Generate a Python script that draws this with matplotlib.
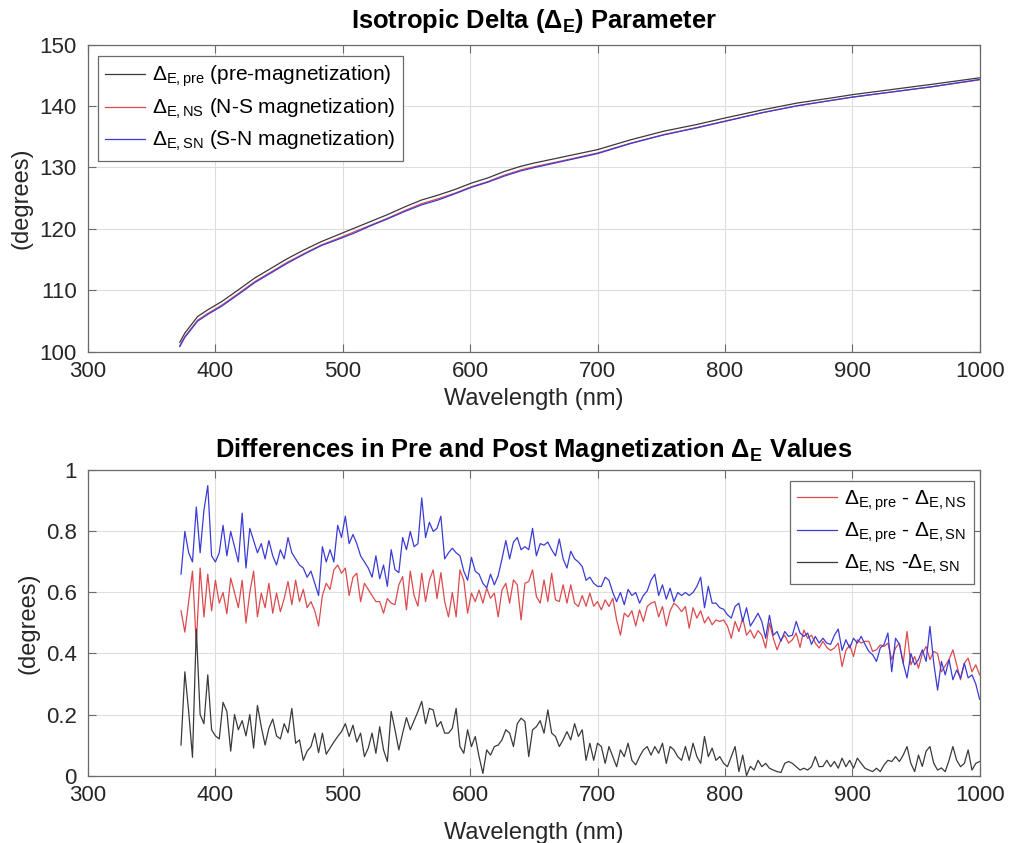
import numpy as np
import matplotlib
matplotlib.use("Agg")
import matplotlib.pyplot as plt

plt.rcParams['font.family'] = ['Liberation Sans', 'DejaVu Sans']
plt.rcParams['mathtext.fontset'] = 'custom'
plt.rcParams['mathtext.rm'] = 'Liberation Sans'
plt.rcParams['mathtext.it'] = 'Liberation Sans:italic'
plt.rcParams['mathtext.bf'] = 'Liberation Sans:bold'

# --- top panel: isotropic delta (degrees) ---
wl_top = [372, 376, 386, 394, 405, 418, 431, 444, 457, 470, 483, 496, 509, 522, 535,
          549, 562, 575, 588, 601, 614, 627, 640, 650, 675, 700, 726, 752, 778, 800,
          830, 857, 883, 900, 935, 961, 1000]
delta_pre = [101.5, 103.0, 105.7, 106.8, 108.15, 110.05, 112.0, 113.6, 115.2, 116.6, 117.9,
             119.0, 120.1, 121.2, 122.3, 123.6, 124.7, 125.5, 126.4, 127.45, 128.3, 129.35,
             130.2, 130.7, 131.8, 132.9, 134.5, 135.9, 137.0, 138.05, 139.4, 140.5, 141.3,
             141.85, 142.8, 143.5, 144.6]
delta_ns = [100.95, 102.45, 105.1, 106.2, 107.55, 109.45, 111.4, 113.0, 114.6, 116.0, 117.35,
            118.4, 119.5, 120.6, 121.7, 123.0, 124.1, 124.9, 125.8, 126.85, 127.7, 128.75,
            129.6, 130.1, 131.2, 132.35, 133.95, 135.35, 136.5, 137.55, 138.95, 140.05, 140.9,
            141.45, 142.4, 143.1, 144.27]
delta_sn = [100.8, 102.3, 104.95, 106.05, 107.4, 109.3, 111.25, 112.85, 114.45, 115.9, 117.25,
            118.25, 119.3, 120.5, 121.6, 122.85, 123.9, 124.7, 125.7, 126.75, 127.6, 128.6,
            129.45, 129.95, 131.1, 132.25, 133.9, 135.3, 136.45, 137.5, 138.95, 140.05, 140.9,
            141.45, 142.4, 143.1, 144.33]

# --- bottom panel: differences (degrees), sampled every 3 nm ---
wl = np.arange(373, 1001, 3)
diff_pre_ns = [
    0.54, 0.47, 0.57, 0.67, 0.43, 0.68, 0.52, 0.66, 0.54, 0.64,
    0.565, 0.60, 0.53, 0.647, 0.60, 0.55, 0.64, 0.50, 0.60, 0.67,
    0.52, 0.598, 0.55, 0.63, 0.532, 0.598, 0.537, 0.58, 0.636, 0.56,
    0.64, 0.57, 0.61, 0.55, 0.57, 0.54, 0.49, 0.59, 0.63, 0.61,
    0.674, 0.69, 0.663, 0.68, 0.59, 0.65, 0.663, 0.57, 0.63, 0.61,
    0.59, 0.57, 0.57, 0.532, 0.58, 0.565, 0.56, 0.625, 0.652, 0.543,
    0.67, 0.59, 0.555, 0.663, 0.57, 0.64, 0.674, 0.58, 0.665, 0.57,
    0.52, 0.60, 0.52, 0.674, 0.64, 0.532, 0.598, 0.57, 0.608, 0.565,
    0.614, 0.581, 0.598, 0.52, 0.608, 0.63, 0.565, 0.641, 0.625, 0.51,
    0.63, 0.636, 0.674, 0.587, 0.565, 0.641, 0.57, 0.663, 0.576, 0.57,
    0.625, 0.565, 0.625, 0.565, 0.554, 0.59, 0.555, 0.598, 0.555, 0.57,
    0.543, 0.576, 0.554, 0.581, 0.51, 0.46, 0.532, 0.52, 0.54, 0.49,
    0.543, 0.505, 0.554, 0.565, 0.57, 0.52, 0.554, 0.49, 0.54, 0.565,
    0.554, 0.537, 0.554, 0.483, 0.55, 0.516, 0.54, 0.50, 0.52, 0.494,
    0.51, 0.505, 0.51, 0.49, 0.45, 0.505, 0.472, 0.516, 0.46, 0.477,
    0.45, 0.475, 0.46, 0.418, 0.50, 0.45, 0.412, 0.445, 0.46, 0.434,
    0.445, 0.467, 0.42, 0.477, 0.45, 0.46, 0.434, 0.418, 0.44, 0.42,
    0.41, 0.418, 0.434, 0.357, 0.41, 0.428, 0.39, 0.445, 0.434, 0.44,
    0.44, 0.407, 0.412, 0.428, 0.423, 0.434, 0.38, 0.418, 0.434, 0.368,
    0.472, 0.363, 0.39, 0.352, 0.40, 0.423, 0.38, 0.407, 0.40, 0.34,
    0.36, 0.38, 0.412, 0.363, 0.314, 0.368, 0.385, 0.34, 0.363, 0.33,
]
diff_pre_sn = [
    0.66, 0.80, 0.73, 0.70, 0.88, 0.73, 0.87, 0.95, 0.72, 0.70,
    0.73, 0.82, 0.72, 0.80, 0.75, 0.70, 0.86, 0.68, 0.81, 0.77,
    0.73, 0.76, 0.71, 0.77, 0.72, 0.69, 0.74, 0.71, 0.78, 0.73,
    0.71, 0.69, 0.68, 0.65, 0.67, 0.63, 0.59, 0.75, 0.70, 0.74,
    0.70, 0.82, 0.78, 0.85, 0.76, 0.79, 0.76, 0.72, 0.70, 0.68,
    0.65, 0.72, 0.645, 0.69, 0.62, 0.74, 0.675, 0.665, 0.78, 0.74,
    0.80, 0.75, 0.76, 0.91, 0.78, 0.83, 0.80, 0.81, 0.85, 0.71,
    0.73, 0.745, 0.73, 0.72, 0.67, 0.64, 0.715, 0.67, 0.66, 0.63,
    0.615, 0.66, 0.625, 0.655, 0.71, 0.77, 0.71, 0.765, 0.78, 0.74,
    0.75, 0.74, 0.81, 0.72, 0.76, 0.755, 0.765, 0.74, 0.72, 0.775,
    0.71, 0.68, 0.735, 0.71, 0.70, 0.685, 0.64, 0.65, 0.63, 0.62,
    0.62, 0.65, 0.64, 0.60, 0.57, 0.60, 0.56, 0.61, 0.59, 0.60,
    0.565, 0.59, 0.605, 0.64, 0.66, 0.59, 0.625, 0.578, 0.614, 0.57,
    0.60, 0.59, 0.60, 0.59, 0.60, 0.62, 0.65, 0.55, 0.62, 0.565,
    0.565, 0.55, 0.545, 0.527, 0.516, 0.554, 0.565, 0.505, 0.55, 0.49,
    0.51, 0.532, 0.505, 0.45, 0.525, 0.46, 0.472, 0.44, 0.472, 0.456,
    0.46, 0.505, 0.467, 0.456, 0.467, 0.43, 0.456, 0.434, 0.45, 0.434,
    0.43, 0.46, 0.48, 0.41, 0.445, 0.418, 0.45, 0.434, 0.456, 0.43,
    0.407, 0.396, 0.374, 0.418, 0.43, 0.467, 0.34, 0.45, 0.43, 0.368,
    0.32, 0.40, 0.363, 0.38, 0.412, 0.374, 0.489, 0.368, 0.28, 0.374,
    0.33, 0.38, 0.314, 0.346, 0.32, 0.368, 0.32, 0.33, 0.30, 0.25,
]
diff_ns_sn = [
    0.10, 0.34, 0.21, 0.06, 0.48, 0.20, 0.17, 0.33, 0.15, 0.13,
    0.12, 0.24, 0.21, 0.08, 0.20, 0.15, 0.18, 0.13, 0.20, 0.09,
    0.23, 0.16, 0.10, 0.155, 0.185, 0.13, 0.12, 0.17, 0.14, 0.22,
    0.106, 0.117, 0.05, 0.08, 0.095, 0.139, 0.075, 0.139, 0.07, 0.09,
    0.11, 0.128, 0.144, 0.17, 0.128, 0.165, 0.11, 0.139, 0.062, 0.09,
    0.139, 0.073, 0.16, 0.084, 0.046, 0.21, 0.15, 0.084, 0.139, 0.19,
    0.15, 0.18, 0.21, 0.243, 0.17, 0.22, 0.215, 0.16, 0.177, 0.139,
    0.139, 0.155, 0.22, 0.095, 0.073, 0.15, 0.095, 0.128, 0.062, 0.007,
    0.084, 0.067, 0.095, 0.10, 0.117, 0.15, 0.139, 0.095, 0.17, 0.188,
    0.177, 0.062, 0.15, 0.16, 0.18, 0.139, 0.215, 0.139, 0.128, 0.095,
    0.117, 0.144, 0.117, 0.17, 0.128, 0.15, 0.05, 0.106, 0.05, 0.106,
    0.095, 0.04, 0.095, 0.062, 0.029, 0.084, 0.062, 0.106, 0.05, 0.035,
    0.062, 0.084, 0.095, 0.067, 0.095, 0.073, 0.106, 0.04, 0.095, 0.084,
    0.062, 0.05, 0.095, 0.05, 0.106, 0.062, 0.04, 0.128, 0.062, 0.09,
    0.05, 0.062, 0.04, 0.029, 0.062, 0.095, 0.013, 0.067, 0.0, 0.03,
    0.018, 0.05, 0.029, 0.04, 0.024, 0.018, 0.013, 0.01, 0.04, 0.046,
    0.04, 0.029, 0.018, 0.024, 0.018, 0.029, 0.062, 0.029, 0.03, 0.05,
    0.029, 0.046, 0.024, 0.057, 0.029, 0.05, 0.024, 0.057, 0.04, 0.024,
    0.018, 0.013, 0.024, 0.013, 0.035, 0.05, 0.046, 0.062, 0.046, 0.067,
    0.095, 0.04, 0.013, 0.067, 0.03, 0.08, 0.095, 0.04, 0.018, 0.025,
    0.013, 0.05, 0.095, 0.05, 0.029, 0.04, 0.084, 0.018, 0.04, 0.046,
]

C_BLACK, C_RED, C_BLUE = "#3a3a3a", "#dc4a4d", "#3b3bd6"
FS_TICK, FS_LAB, FS_TITLE, FS_LEG = 16, 17, 18.4, 15


def style_axes(ax, xpad):
    ax.grid(True, color="#dedede", lw=0.8)
    ax.set_axisbelow(True)
    for sp in ax.spines.values():
        sp.set_color("#6a6a6a"); sp.set_linewidth(0.9)
    ax.tick_params(direction="in", length=6, width=0.8, color="#6a6a6a",
                   top=True, right=True, labelsize=FS_TICK, labelcolor="#262626")
    ax.tick_params(axis="x", pad=7)
    ax.tick_params(axis="y", pad=8)
    ax.set_xlim(300, 1000)
    ax.set_xticks(range(300, 1001, 100))
    ax.set_xlabel("Wavelength (nm)", fontsize=FS_LAB, color="#262626", labelpad=xpad)
    ax.set_ylabel("(degrees)", fontsize=FS_LAB, color="#262626", labelpad=5)


def add_legend(ax, **kw):
    leg = ax.legend(borderaxespad=0, fontsize=FS_LEG, fancybox=False, framealpha=1,
                    edgecolor="#6a6a6a", handletextpad=0.35, labelspacing=0.38,
                    borderpad=0.35, **kw)
    leg.get_frame().set_linewidth(0.9)
    return leg


fig = plt.figure(figsize=(10.12, 8.43), dpi=100)
ax1 = fig.add_axes([0.087, 0.583, 0.881, 0.364])
ax2 = fig.add_axes([0.087, 0.080, 0.881, 0.362])

ax1.plot(wl_top, delta_pre, color=C_BLACK, lw=0.9,
         label=r"$\Delta_{\mathrm{E,pre}}$ (pre-magnetization)")
ax1.plot(wl_top, delta_ns, color=C_RED, lw=0.9,
         label=r"$\Delta_{\mathrm{E,NS}}$ (N-S magnetization)")
ax1.plot(wl_top, delta_sn, color=C_BLUE, lw=0.9,
         label=r"$\Delta_{\mathrm{E,SN}}$ (S-N magnetization)")
style_axes(ax1, xpad=4)
ax1.set_ylim(100, 150)
ax1.set_yticks(range(100, 151, 10))
ax1.set_title(r"Isotropic Delta ($\mathbf{\Delta_E}$) Parameter", fontsize=FS_TITLE,
              fontweight="bold", pad=12)
add_legend(ax1, loc="upper left", bbox_to_anchor=(0.011, 0.962), handlelength=1.9)

ax2.plot(wl, diff_pre_ns, color=C_RED, lw=0.9,
         label=r"$\Delta_{\mathrm{E,pre}}$ - $\Delta_{\mathrm{E,NS}}$")
ax2.plot(wl, diff_pre_sn, color=C_BLUE, lw=0.9,
         label=r"$\Delta_{\mathrm{E,pre}}$ - $\Delta_{\mathrm{E,SN}}$")
ax2.plot(wl, diff_ns_sn, color=C_BLACK, lw=0.9,
         label=r"$\Delta_{\mathrm{E,NS}}$ -$\Delta_{\mathrm{E,SN}}$")
style_axes(ax2, xpad=11)
ax2.set_ylim(0, 1)
ax2.set_yticks([0, 0.2, 0.4, 0.6, 0.8, 1])
ax2.set_yticklabels(["0", "0.2", "0.4", "0.6", "0.8", "1"])
ax2.set_title(r"Differences in Pre and Post Magnetization $\mathbf{\Delta_E}$ Values",
              fontsize=FS_TITLE, fontweight="bold", pad=10)
add_legend(ax2, loc="upper right", bbox_to_anchor=(0.994, 0.965), handlelength=1.9)

fig.savefig("out.png", dpi=100)
